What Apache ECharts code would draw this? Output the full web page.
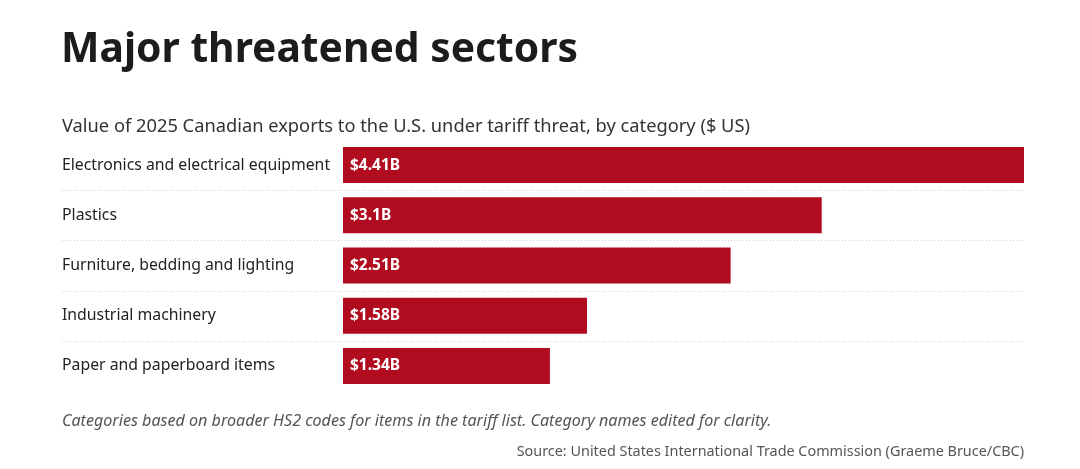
<!DOCTYPE html>
<html>
<head>
<meta charset="utf-8">
<script src="https://cdn.jsdelivr.net/npm/echarts@6/dist/echarts.min.js"></script>
<style>
    html, body { margin: 0; padding: 0; background: #fff; }
    #chart { width: 1080px; height: 469px; }
</style>
</head>
<body>
<div id="chart"></div>
<script>
    // 数据
    const categories = [
        'Electronics and electrical equipment',
        'Plastics',
        'Furniture, bedding and lighting',
        'Industrial machinery',
        'Paper and paperboard items'
    ];
    const values = [4.41, 3.1, 2.51, 1.58, 1.34];
    const valueLabels = ['$4.41B', '$3.1B', '$2.51B', '$1.58B', '$1.34B'];

    const FONT = '"Noto Sans", sans-serif';
    const chart = echarts.init(document.getElementById('chart'));

    const option = {
        animation: false,
        textStyle: {fontFamily: FONT},
        title: [
            {
                text: 'Major threatened sectors',
                left: 61, top: 30, padding: 0,
                textStyle: {fontSize: 40.8, fontWeight: 'bold', color: '#1c1c1c', fontFamily: FONT}
            },
            {
                text: 'Value of 2025 Canadian exports to the U.S. under tariff threat, by category ($ US)',
                left: 62, top: 118, padding: 0,
                textStyle: {fontSize: 18.3, fontWeight: 'normal', color: '#333', fontFamily: FONT}
            },
            {
                text: 'Categories based on broader HS2 codes for items in the tariff list. Category names edited for clarity.',
                left: 62, top: 413, padding: 0,
                textStyle: {fontSize: 16.1, fontStyle: 'italic', fontWeight: 'normal', color: '#555', fontFamily: FONT}
            },
            {
                text: 'Source: United States International Trade Commission (Graeme Bruce/CBC)',
                right: 56, top: 445, padding: 0,
                textStyle: {fontSize: 14.4, fontWeight: 'normal', color: '#555', fontFamily: FONT}
            }
        ],
        grid: {left: 343, right: 56, top: 140, height: 251},
        xAxis: {
            type: 'value',
            min: 0,
            max: 4.41,
            show: false
        },
        yAxis: {
            type: 'category',
            data: categories,
            inverse: true,
            axisLine: {show: false},
            axisTick: {show: false},
            splitLine: {show: false},
            axisLabel: {
                align: 'left',
                margin: 281,
                fontSize: 15.8,
                color: '#222',
                fontFamily: FONT,
                padding: [4, 0, 0, 0]
            }
        },
        series: [{
            type: 'bar',
            data: values,
            barWidth: 36,
            itemStyle: {color: '#b00b1e'},
            label: {
                show: true,
                position: 'insideLeft',
                distance: 7,
                color: '#fff',
                fontSize: 15.5,
                fontWeight: 'bold',
                fontFamily: FONT,
                padding: [3, 0, 0, 0],
                formatter: p => valueLabels[p.dataIndex]
            }
        }]
    };
    chart.setOption(option);

    // 行间虚线分隔符
    const lines = [];
    const x1 = 62;
    const x2 = chart.convertToPixel({xAxisIndex: 0}, 4.41);
    for (let i = 0; i < categories.length - 1; i++) {
        const yA = chart.convertToPixel({yAxisIndex: 0}, categories[i]);
        const yB = chart.convertToPixel({yAxisIndex: 0}, categories[i + 1]);
        const y = Math.round((yA + yB) / 2) + 0.5;
        lines.push({
            type: 'line',
            shape: {x1: x1, y1: y, x2: x2, y2: y},
            style: {stroke: '#cfcfcf', lineWidth: 1, lineDash: [1, 2]},
            silent: true
        });
    }
    chart.setOption({graphic: lines});
</script>
</body>
</html>
